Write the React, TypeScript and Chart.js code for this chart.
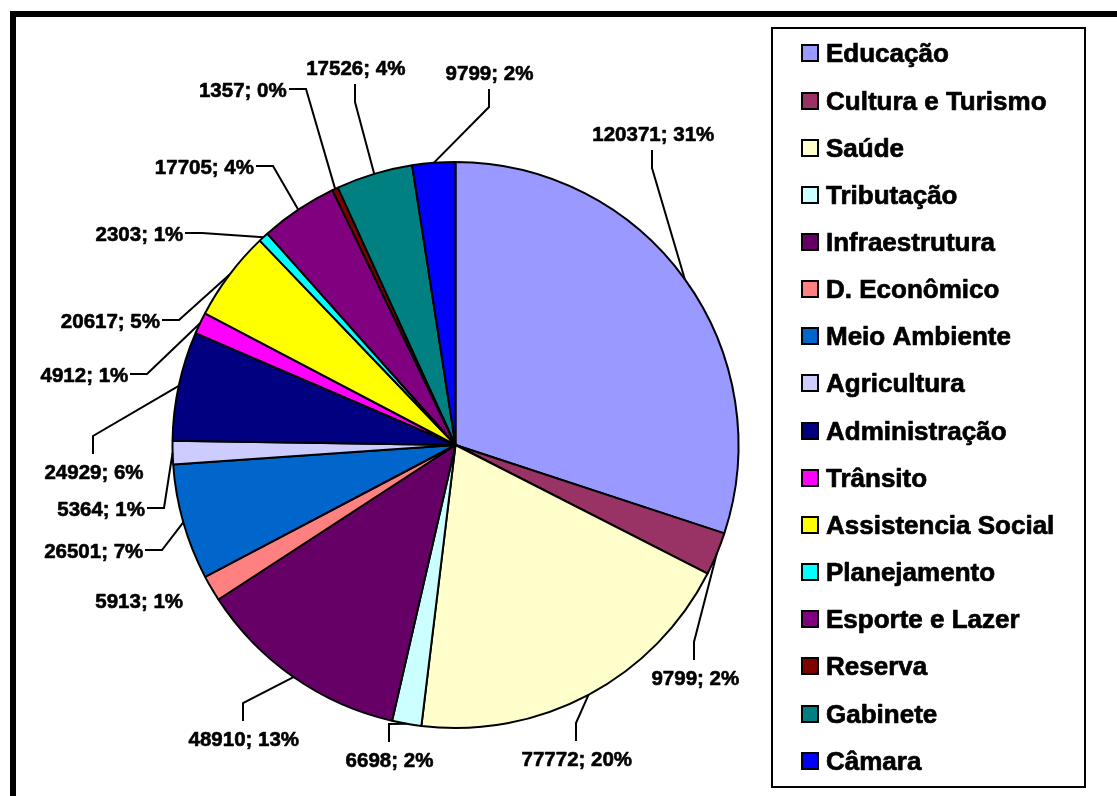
import React, { useEffect, useRef } from "react";
import { Chart, registerables } from "chart.js";

Chart.register(...registerables);

// ---------- data ----------
const categories = [
  "Educação",
  "Cultura e Turismo",
  "Saúde",
  "Tributação",
  "Infraestrutura",
  "D. Econômico",
  "Meio Ambiente",
  "Agricultura",
  "Administração",
  "Trânsito",
  "Assistencia Social",
  "Planejamento",
  "Esporte e Lazer",
  "Reserva",
  "Gabinete",
  "Câmara",
];
const values = [120371, 9799, 77772, 6698, 48910, 5913, 26501, 5364, 24929, 4912, 20617, 2303, 17705, 1357, 17526, 9799];
const percentLabels = [31, 2, 20, 2, 13, 1, 7, 1, 6, 1, 5, 1, 4, 0, 4, 2];
const sliceColors = [
  "#9999FF", "#993366", "#FFFFCC", "#CCFFFF", "#660066", "#FF8080", "#0066CC", "#CCCCFF",
  "#000080", "#FF00FF", "#FFFF00", "#00FFFF", "#800080", "#800000", "#008080", "#0000FF",
];

// ---------- label layout (offset of text anchor from pie centre, px) ----------
const labelDX = [197.8, 239.8, 121.3, -66, -211.7, -316.3, -312.2, -310.5, -361.5, -327.2, -295.5, -272.2, -201.5, -168.8, -99.7, 34];
const labelDY = [-304, 240, 321, 322, 301, 163, 113, 71, 34, -63.3, -117, -204.3, -271, -348.3, -370, -365];
const labelLeader = ["down", "up", "up", "up", "up", "none", "right", "right", "up", "right", "right", "right", "right", "right", "down", "down"];

const LABEL_FONT = 'bold 20.5px "Liberation Sans", Arial, sans-serif';
const LEGEND_FONT = 'bold 26px "Liberation Sans", Arial, sans-serif';

function heavyText(ctx: CanvasRenderingContext2D, text: string, x: number, y: number, w: number) {
  ctx.fillText(text, x, y);
  ctx.save();
  ctx.lineWidth = w;
  ctx.lineJoin = "round";
  ctx.strokeStyle = ctx.fillStyle as string;
  ctx.strokeText(text, x, y);
  ctx.restore();
}

const leaderLabels = {
  id: "leaderLabels",
  afterDatasetsDraw(chart: any) {
    const ctx = chart.ctx;
    const meta = chart.getDatasetMeta(0);
    ctx.save();
    ctx.font = LABEL_FONT;
    ctx.fillStyle = "#000";
    ctx.strokeStyle = "#000";
    ctx.lineWidth = 2;
    ctx.lineJoin = "miter";
    meta.data.forEach((arc: any, i: number) => {
      const p = arc.getProps(["x", "y", "startAngle", "endAngle", "outerRadius"], true);
      const mid = (p.startAngle + p.endAngle) / 2;
      const ax = p.x + Math.cos(mid) * p.outerRadius;
      const ay = p.y + Math.sin(mid) * p.outerRadius;
      const tx = p.x + labelDX[i];
      const ty = p.y + labelDY[i];
      const type = labelLeader[i];
      ctx.textAlign = type === "right" ? "right" : "center";
      ctx.textBaseline = "alphabetic";
      heavyText(ctx, `${values[i]}; ${percentLabels[i]}%`, tx, ty, 0.6);
      let s: number[] | null = null;
      let e: number[] | null = null;
      const vx = Math.round(tx - 1);
      if (type === "down") {
        s = [vx, Math.round(ty + 9)];
        e = [vx, Math.round(ty + 27)];
      } else if (type === "up") {
        s = [vx, Math.round(ty - 25)];
        e = [vx, Math.round(ty - 43)];
      } else if (type === "right") {
        const hy = Math.round(ty - 8);
        s = [Math.round(tx + 2), hy];
        e = [Math.round(tx + 19), hy];
      }
      if (s && e) {
        ctx.lineWidth = 2;
        ctx.beginPath();
        ctx.moveTo(s[0], s[1]);
        ctx.lineTo(e[0], e[1]);
        ctx.lineTo(ax, ay);
        ctx.stroke();
      }
    });
    ctx.restore();
  },
};

const boxLegend = {
  id: "boxLegend",
  afterDraw(chart: any) {
    const ctx = chart.ctx;
    const labels = chart.data.labels as string[];
    const colors = chart.data.datasets[0].backgroundColor as string[];
    ctx.save();
    ctx.strokeStyle = "#000";
    ctx.lineWidth = 2;
    ctx.strokeRect(772, 28, 313, 759);
    ctx.font = LEGEND_FONT;
    ctx.textAlign = "left";
    ctx.textBaseline = "alphabetic";
    labels.forEach((lab, i) => {
      const cy = Math.round(53.4 + i * 47.15);
      ctx.fillStyle = colors[i];
      ctx.fillRect(802, cy - 8, 16, 16);
      ctx.lineWidth = 2;
      ctx.strokeRect(802, cy - 8, 16, 16);
      ctx.fillStyle = "#000";
      heavyText(ctx, lab, 826, cy + 9, 0.7);
    });
    // outer thick frame
    ctx.lineWidth = 6;
    ctx.strokeRect(13, 14, 1300, 1000);
    ctx.restore();
  },
};

const whiteBg = {
  id: "whiteBg",
  beforeDraw(chart: any) {
    const ctx = chart.ctx;
    ctx.save();
    ctx.fillStyle = "#fff";
    ctx.fillRect(0, 0, chart.width, chart.height);
    ctx.restore();
  },
};

export default function App() {
  const ref = useRef<HTMLCanvasElement | null>(null);
  useEffect(() => {
    if (!ref.current) return;
    const chart = new Chart(ref.current, {
      type: "pie",
      data: {
        labels: categories,
        datasets: [
          {
            data: values,
            backgroundColor: sliceColors,
            borderColor: "#000",
            borderWidth: 2,
            hoverBorderWidth: 2,
            hoverOffset: 0,
          },
        ],
      },
      options: {
        responsive: false,
        animation: false,
        events: [],
        layout: { padding: { left: 171.5, top: 161, right: 377.5, bottom: 67 } },
        plugins: {
          legend: { display: false },
          tooltip: { enabled: false },
          title: { display: false },
        },
      },
      plugins: [whiteBg, leaderLabels, boxLegend],
    });
    return () => chart.destroy();
  }, []);
  return (
    <div style={{ position: "fixed", left: 0, top: 0, width: 1117, height: 796, background: "#fff" }}>
      <canvas ref={ref} width={1117} height={796} style={{ display: "block" }} />
    </div>
  );
}
